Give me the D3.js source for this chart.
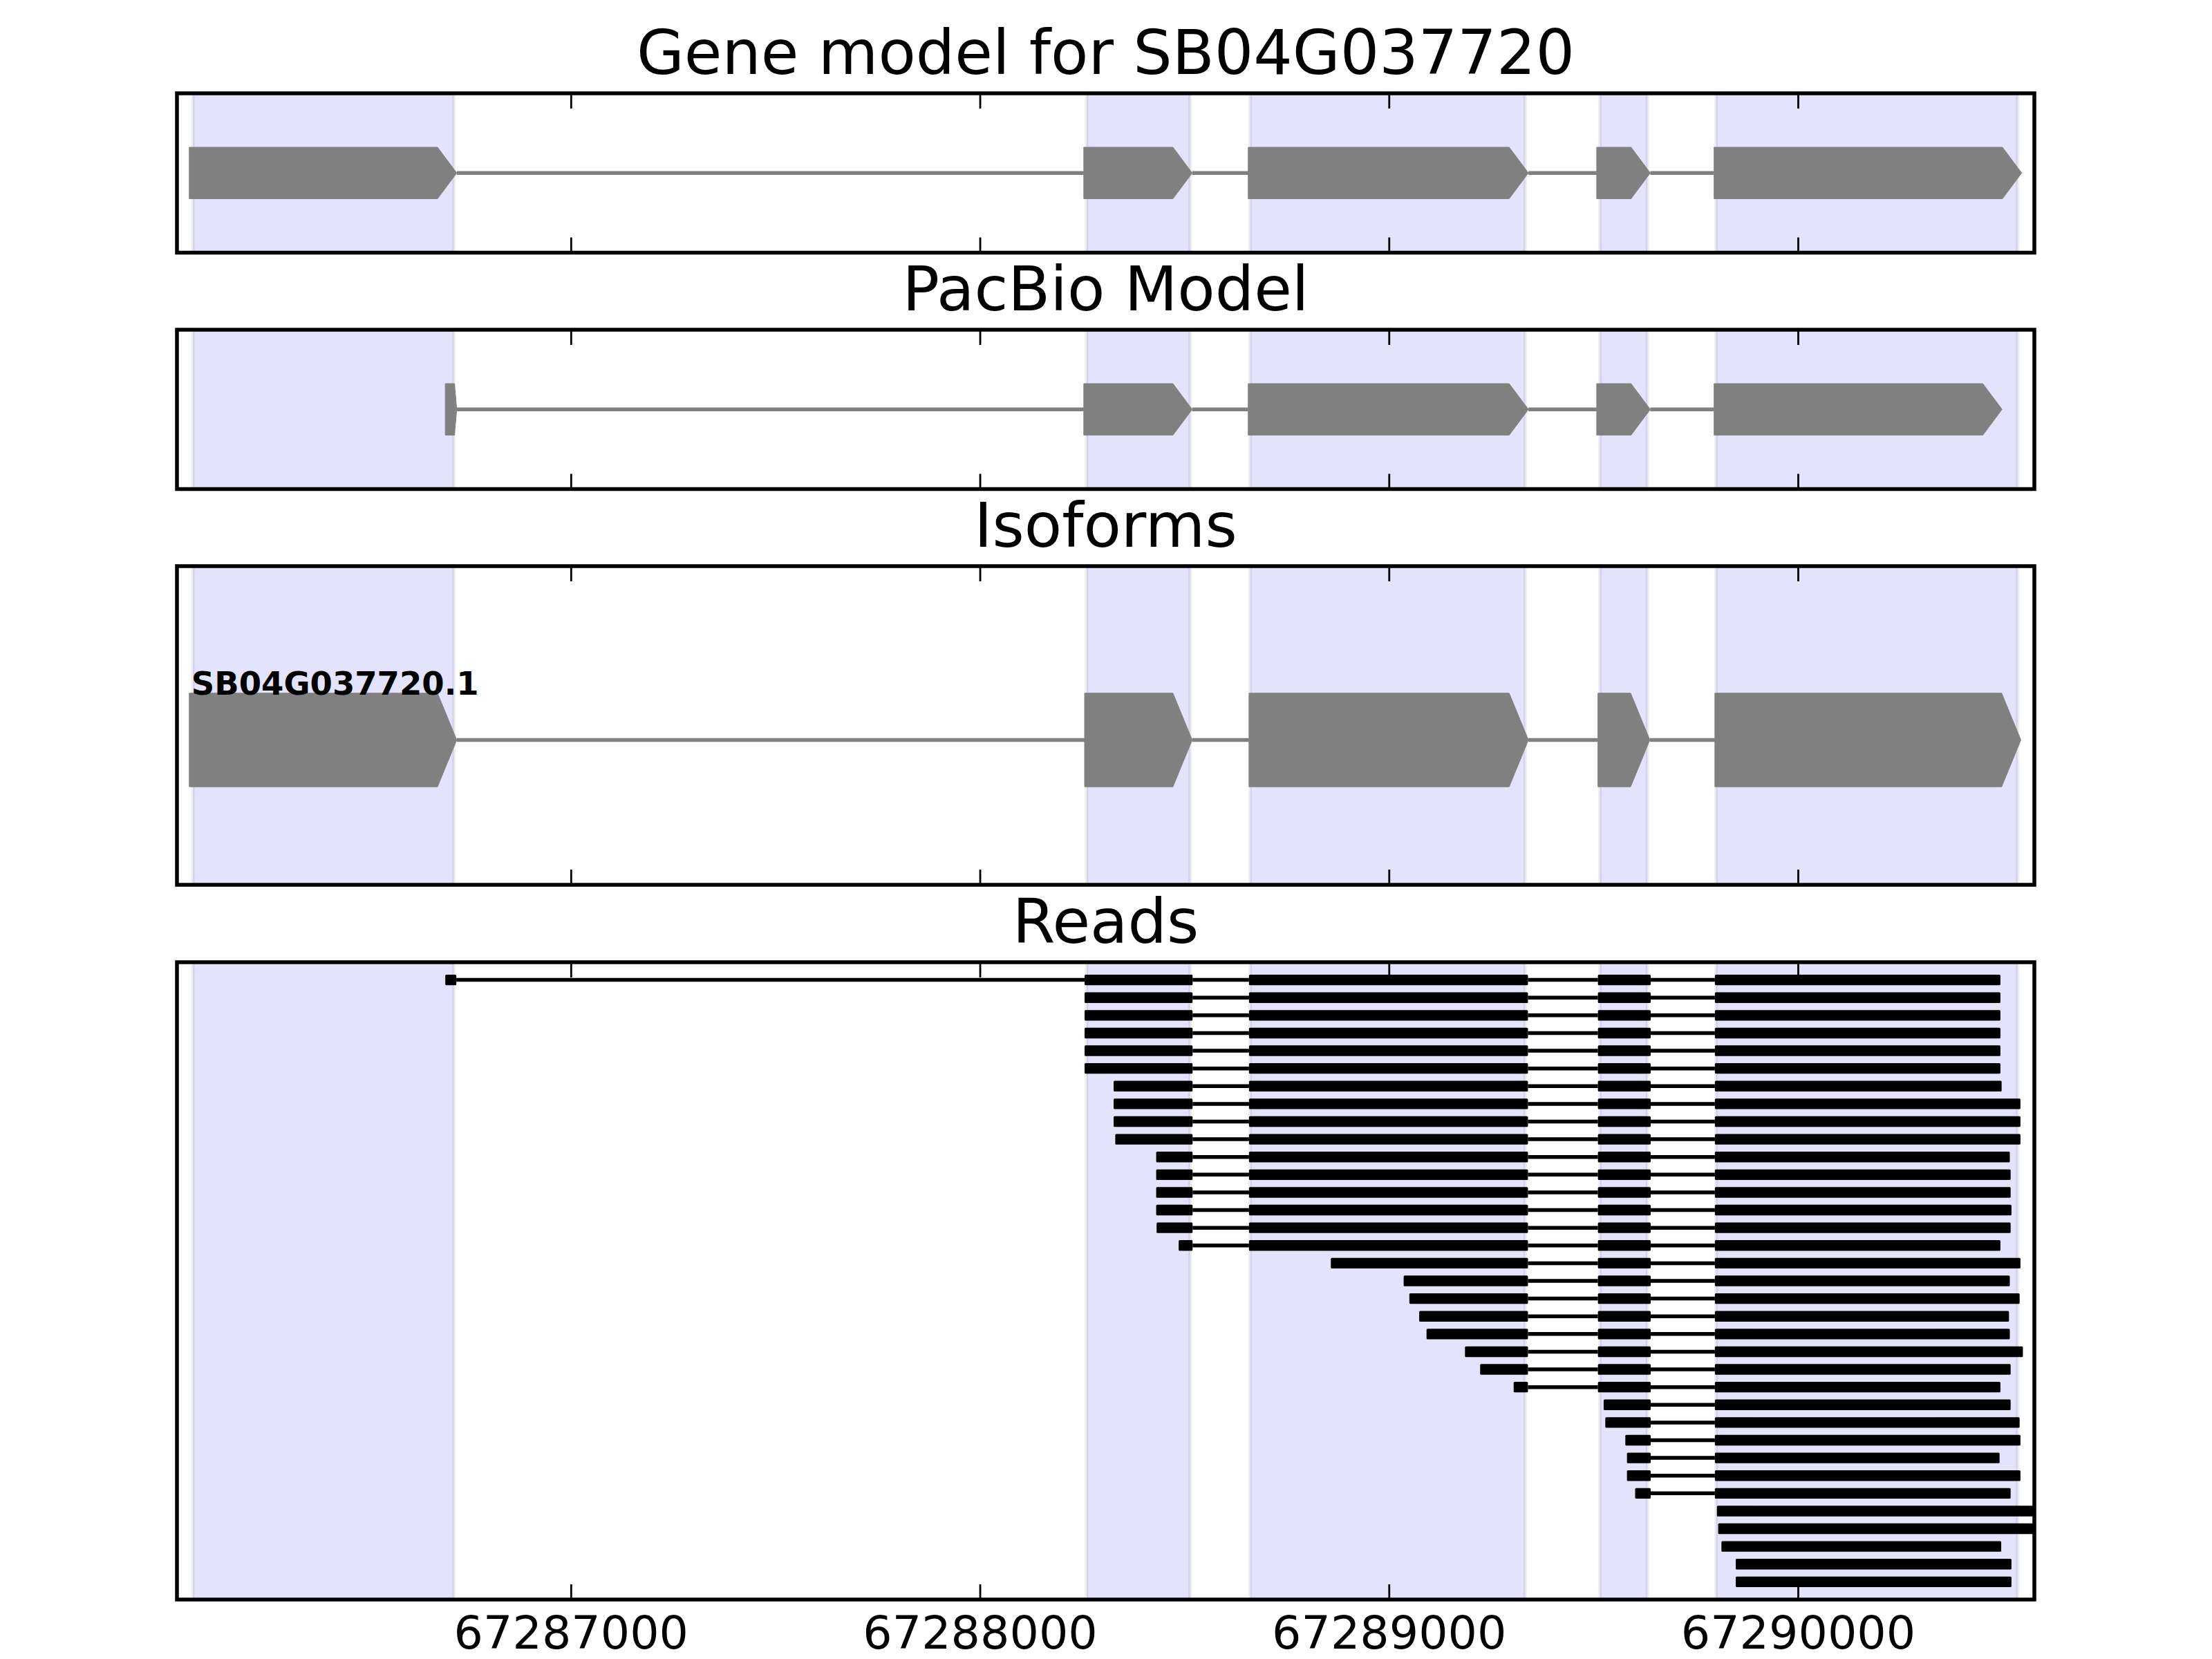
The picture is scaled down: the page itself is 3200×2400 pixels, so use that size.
<!DOCTYPE html>
<html>
<head>
<meta charset="utf-8">
<script src="https://cdn.jsdelivr.net/npm/d3@7"></script>
<style>
  html, body { margin: 0; padding: 0; background: #ffffff; }
  svg { display: block; }
  text { font-family: "DejaVu Sans", sans-serif; }
</style>
</head>
<body>
<script>
// ---------------- data ----------------
const panelTitles = ["Gene model for SB04G037720", "PacBio Model", "Isoforms", "Reads"];
const xDomain = [67286037, 67290578];
const tickValues = [67287000, 67288000, 67289000, 67290000];

// shaded exon regions (start, end)
const spanStarts = [67286076, 67288261, 67288661, 67289516, 67289800];
const spanEnds   = [67286714, 67288514, 67289333, 67289632, 67290537];

// gene model exons (arrow tip at end)
const geneExonStarts = [67286067, 67288254, 67288656, 67289508, 67289795];
const geneExonEnds   = [67286721, 67288519, 67289341, 67289639, 67290547];

// PacBio model exons
const pacbioExonStarts = [67286693, 67288254, 67288656, 67289508, 67289795];
const pacbioExonEnds   = [67286721, 67288519, 67289341, 67289639, 67290499];

// isoform exons
const isoformName = "SB04G037720.1";
const isoExonStarts = [67286067, 67288256, 67288658, 67289511, 67289797];
const isoExonEnds   = [67286721, 67288519, 67289341, 67289638, 67290545];

// exon boundaries used by the reads
const readExonStarts = [67286693, 67288256, 67288658, 67289511, 67289797];
const readExonEnds   = [67286720, 67288520, 67289340, 67289640, 67290700];

// each read: start and end
const readStarts = [
  67286693, 67288256, 67288256, 67288256, 67288256, 67288256,
  67288327, 67288327, 67288327, 67288331,
  67288431, 67288431, 67288431, 67288431, 67288432,
  67288486, 67288858, 67289036, 67289050, 67289074, 67289092,
  67289186, 67289223, 67289305, 67289525, 67289529, 67289578,
  67289582, 67289582, 67289602, 67289802, 67289805, 67289813,
  67289848, 67289848
];
const readEnds = [
  67290495, 67290495, 67290495, 67290495, 67290495, 67290495,
  67290498, 67290544, 67290544, 67290544,
  67290518, 67290520, 67290520, 67290522, 67290520,
  67290495, 67290544, 67290518, 67290542, 67290516, 67290518,
  67290550, 67290520, 67290495, 67290520, 67290542, 67290544,
  67290493, 67290544, 67290520, 67290640, 67290640, 67290497,
  67290522, 67290522
];

// ---------------- layout ----------------
const W = 3200, H = 2400;
const L = 256, R = 2943;
const panels = [
  {top: 135, bottom: 365.5},
  {top: 477, bottom: 707.5},
  {top: 819, bottom: 1280},
  {top: 1392, bottom: 2314}
];
const HEAD_BP = 47;
const EXON_HALF = 0.323;

const svg = d3.select("body").append("svg")
  .attr("width", W).attr("height", H)
  .attr("viewBox", `0 0 ${W} ${H}`);
svg.append("rect").attr("width", W).attr("height", H).attr("fill", "#ffffff");

const x = d3.scaleLinear().domain(xDomain).range([L, R]);

const defs = svg.append("defs");
panels.forEach((p, i) => {
  defs.append("clipPath").attr("id", "clip" + i)
    .append("rect").attr("x", L).attr("y", p.top)
    .attr("width", R - L).attr("height", p.bottom - p.top);
});

const yScales = [
  d3.scaleLinear().domain([1, -1]).range([panels[0].top, panels[0].bottom]),
  d3.scaleLinear().domain([1, -1]).range([panels[1].top, panels[1].bottom]),
  d3.scaleLinear().domain([1.2, -1]).range([panels[2].top, panels[2].bottom]),
  d3.scaleLinear().domain([-1, 35]).range([panels[3].top, panels[3].bottom])
];

function drawSpans(g, p) {
  const spans = spanStarts.map((s, i) => ({s, e: spanEnds[i]}));
  g.selectAll("rect.span").data(spans).enter().append("rect")
    .attr("class", "span")
    .attr("x", d => x(d.s)).attr("width", d => x(d.e) - x(d.s))
    .attr("y", p.top).attr("height", p.bottom - p.top)
    .attr("fill", "#e3e3fc")
    .attr("stroke", "rgba(20,20,60,0.08)")
    .attr("stroke-width", 5);
}

function drawModel(g, y, starts, ends) {
  const exons = starts.map((s, i) => ({s, e: ends[i]}));
  const introns = [];
  for (let i = 0; i < exons.length - 1; i++) introns.push({s: exons[i].e, e: exons[i + 1].s});
  g.selectAll("line.intron").data(introns).enter().append("line")
    .attr("x1", d => x(d.s)).attr("x2", d => x(d.e))
    .attr("y1", y(0)).attr("y2", y(0))
    .attr("stroke", "#808080").attr("stroke-width", 5.5);
  g.selectAll("path.exon").data(exons).enter().append("path")
    .attr("d", d => {
      const len = d.e - d.s;
      const head = len < HEAD_BP ? len * 0.2 : HEAD_BP;
      const pts = [
        [x(d.s), y(EXON_HALF)],
        [x(d.e - head), y(EXON_HALF)],
        [x(d.e), y(0)],
        [x(d.e - head), y(-EXON_HALF)],
        [x(d.s), y(-EXON_HALF)]
      ];
      return d3.line()(pts) + "Z";
    })
    .attr("fill", "#808080")
    .attr("stroke", "#808080").attr("stroke-width", 1);
}

function drawReads(g, y) {
  const reads = readStarts.map((s, i) => {
    const e = readEnds[i];
    const blocks = [];
    readExonStarts.forEach((es, k) => {
      const ee = readExonEnds[k];
      const bs = Math.max(s, es), be = Math.min(e, ee);
      if (be > bs) blocks.push({s: bs, e: be});
    });
    return {row: i, blocks};
  });
  reads.forEach(r => {
    const rg = g.append("g");
    for (let k = 0; k < r.blocks.length - 1; k++) {
      rg.append("line")
        .attr("x1", x(r.blocks[k].e)).attr("x2", x(r.blocks[k + 1].s))
        .attr("y1", y(r.row)).attr("y2", y(r.row))
        .attr("stroke", "#000").attr("stroke-width", 5.5);
    }
    rg.selectAll("rect").data(r.blocks).enter().append("rect")
      .attr("x", d => x(d.s)).attr("width", d => x(d.e) - x(d.s))
      .attr("y", y(r.row) - 7.7).attr("height", 15.4)
      .attr("rx", 1.5)
      .attr("fill", "#000");
  });
}

panels.forEach((p, i) => {
  const g = svg.append("g").attr("clip-path", `url(#clip${i})`);
  drawSpans(g, p);
  const y = yScales[i];
  if (i === 0) drawModel(g, y, geneExonStarts, geneExonEnds);
  if (i === 1) drawModel(g, y, pacbioExonStarts, pacbioExonEnds);
  if (i === 2) {
    drawModel(g, y, isoExonStarts, isoExonEnds);
    g.append("text")
      .attr("x", x(isoExonStarts[0]) + 3).attr("y", y(EXON_HALF) + 2)
      .attr("font-size", 46.5).attr("font-weight", "bold")
      .attr("fill", "#000")
      .text(isoformName);
  }
  if (i === 3) drawReads(g, y);

  // ticks (inward, top and bottom)
  const top = svg.append("g").attr("transform", `translate(0,${p.top})`)
    .call(d3.axisTop(x).tickValues(tickValues).tickSize(-22).tickFormat(""));
  const bot = svg.append("g").attr("transform", `translate(0,${p.bottom})`)
    .call(d3.axisBottom(x).tickValues(tickValues).tickSize(-22).tickPadding(24)
      .tickFormat(i === 3 ? d3.format("d") : () => ""));
  [top, bot].forEach(a => {
    a.select(".domain").remove();
    a.selectAll(".tick line").attr("stroke", "#000").attr("stroke-width", 2.8);
    a.selectAll(".tick text").attr("font-size", 66.7).attr("fill", "#000")
      .attr("font-family", "DejaVu Sans, sans-serif");
  });

  // frame
  svg.append("rect")
    .attr("x", L).attr("y", p.top).attr("width", R - L).attr("height", p.bottom - p.top)
    .attr("fill", "none").attr("stroke", "#000").attr("stroke-width", 5.5);

  // title
  svg.append("text")
    .attr("x", (L + R) / 2).attr("y", p.top - 28)
    .attr("text-anchor", "middle").attr("font-size", 88.9).attr("fill", "#000")
    .text(panelTitles[i]);
});
</script>
</body>
</html>
